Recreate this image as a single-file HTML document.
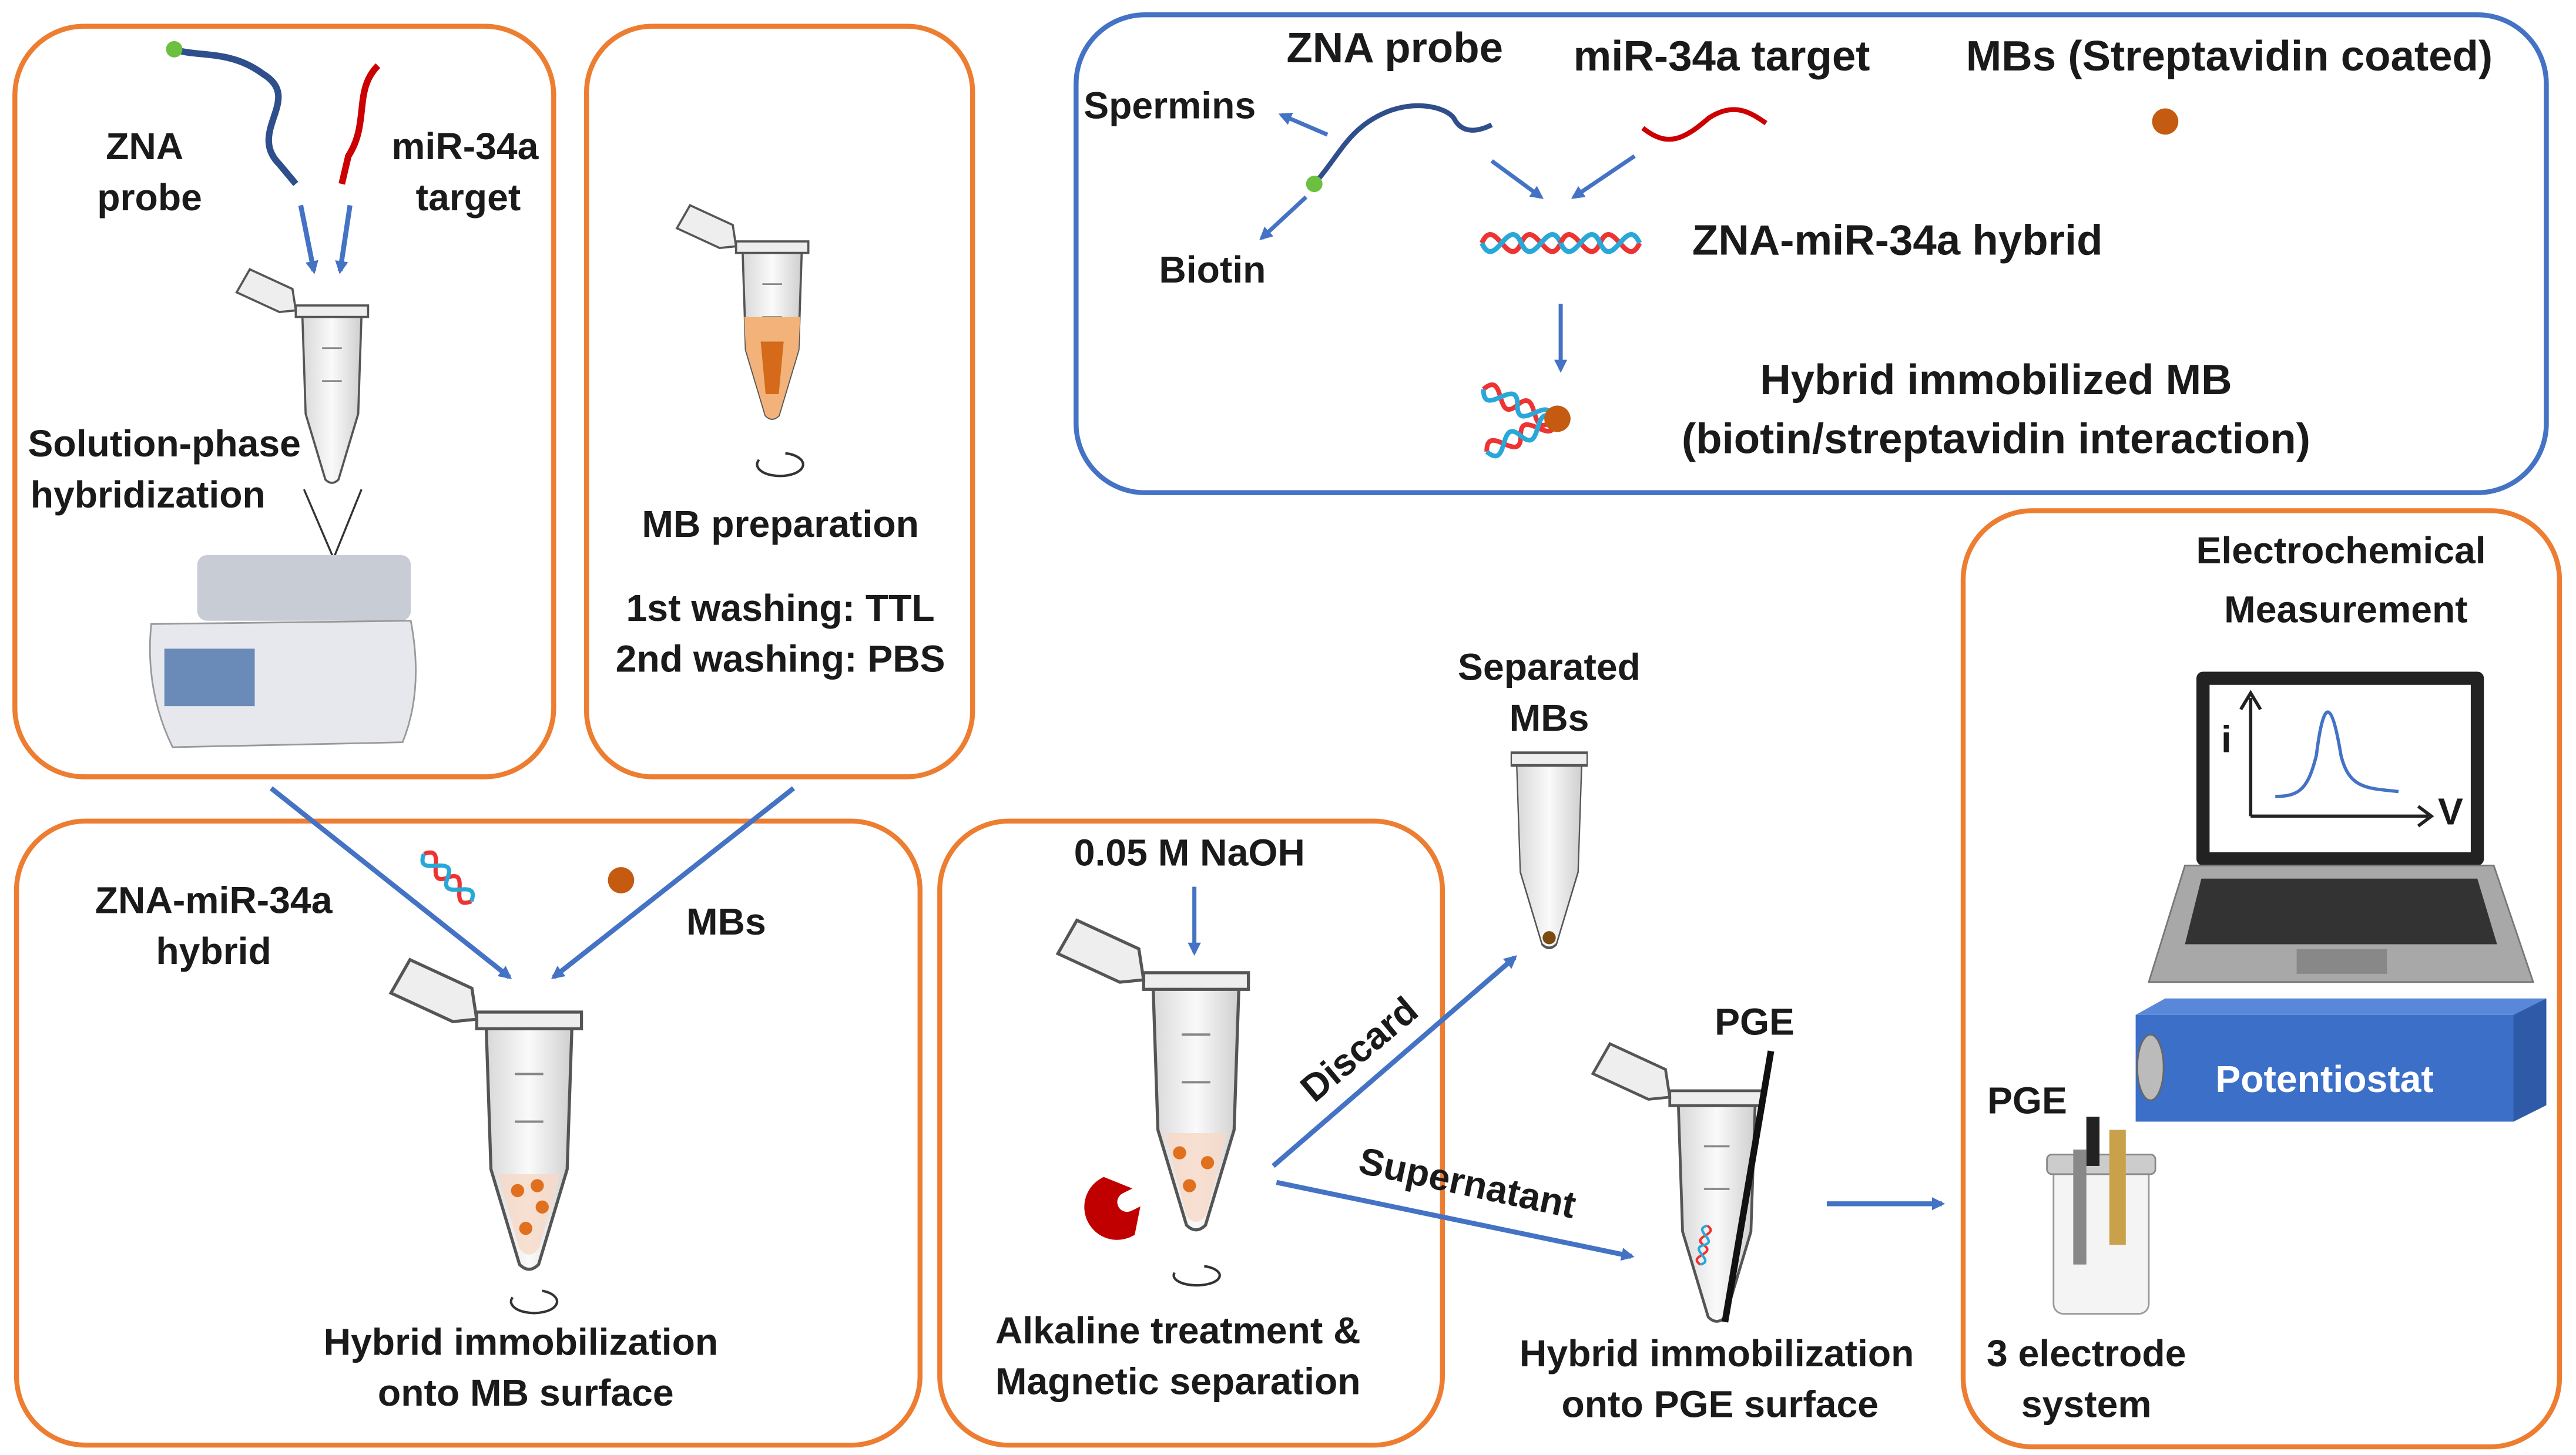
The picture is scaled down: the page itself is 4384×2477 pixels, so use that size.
<!DOCTYPE html>
<html><head><meta charset="utf-8"><style>
html,body{margin:0;padding:0;background:#fff}
svg{display:block}
text{font-family:"Liberation Sans",sans-serif;font-weight:bold;fill:#1a1a1a;font-size:23px}
.tr{font-size:26px}
</style></head><body>
<svg width="4384" height="2477" viewBox="0 0 1568 886" xmlns="http://www.w3.org/2000/svg">
<defs>
<marker id="ah" markerWidth="8" markerHeight="8" refX="6" refY="4" orient="auto" markerUnits="userSpaceOnUse"><path d="M0,0 L8,4 L0,8 Z" fill="#4472C4"/></marker>
<linearGradient id="tb" x1="0" x2="1"><stop offset="0" stop-color="#d8d8d8"/><stop offset="0.5" stop-color="#fafafa"/><stop offset="1" stop-color="#cfcfcf"/></linearGradient>
<g id="tube">
<path d="M-18,0 L18,0 L16,60 L4,100 Q0,104 -4,100 L-16,60 Z" fill="url(#tb)" stroke="#555" stroke-width="1.3"/>
<rect x="-22" y="-6" width="44" height="7" fill="#eee" stroke="#555" stroke-width="1.3"/>
<path d="M-22,-3 L-32,-2 L-58,-14 L-50,-28 L-24,-16 Z" fill="#eee" stroke="#555" stroke-width="1.3"/>
<line x1="-6" y1="20" x2="6" y2="20" stroke="#888"/><line x1="-6" y1="40" x2="6" y2="40" stroke="#888"/>
</g>
<g id="dna">
<path d="M0,0 C8,-18 16,18 24,0 C32,-18 40,18 48,0" fill="none" stroke="#e33" stroke-width="3"/>
<path d="M0,0 C8,18 16,-18 24,0 C32,18 40,-18 48,0" fill="none" stroke="#29a8d8" stroke-width="3"/>
</g>
</defs>
<g fill="none" stroke="#ED7D31" stroke-width="3">
<rect x="9" y="16" width="328" height="457" rx="42"/>
<rect x="357" y="16" width="235" height="457" rx="40"/>
<rect x="10" y="500" width="550" height="380" rx="42"/>
<rect x="572" y="500" width="306" height="380" rx="42"/>
<rect x="1195" y="311" width="363" height="570" rx="42"/>
</g>
<rect x="655" y="9" width="895" height="291" rx="42" fill="none" stroke="#4472C4" stroke-width="3"/>

<!-- box1 -->
<path d="M106,30 C120,35 140,30 160,45 C185,60 150,80 170,100 L180,112" fill="none" stroke="#2F4E8C" stroke-width="4"/>
<circle cx="106" cy="30" r="5" fill="#6bc13f"/>
<path d="M230,40 C215,55 225,75 212,95 L208,112" fill="none" stroke="#c00" stroke-width="4"/>
<text x="88" y="97" text-anchor="middle">ZNA</text><text x="91" y="128" text-anchor="middle">probe</text>
<text x="283" y="97" text-anchor="middle">miR-34a</text><text x="285" y="128" text-anchor="middle">target</text>
<line x1="183" y1="125" x2="191" y2="165" stroke="#4472C4" stroke-width="3" marker-end="url(#ah)"/>
<line x1="213" y1="125" x2="207" y2="165" stroke="#4472C4" stroke-width="3" marker-end="url(#ah)"/>
<use href="#tube" transform="translate(202,192)"/>
<text x="100" y="278" text-anchor="middle">Solution-phase</text><text x="90" y="309" text-anchor="middle">hybridization</text>
<path d="M185,298 L203,340 L220,298" fill="none" stroke="#333" stroke-width="1.2"/>
<rect x="120" y="338" width="130" height="40" rx="6" fill="#c8ccd4"/>
<path d="M92,380 L250,378 Q258,420 245,452 L105,455 Q88,420 92,380Z" fill="#e6e8ee" stroke="#999"/>
<rect x="100" y="395" width="55" height="35" fill="#6a8bb8"/>

<!-- box2 -->
<use href="#tube" transform="translate(470,153)"/>
<path d="M-17,40 L17,40 L16,60 L4,100 Q0,104 -4,100 L-16,60 Z" transform="translate(470,153)" fill="#f2b27a"/>
<path d="M463,208 L477,208 L474,240 L466,240Z" fill="#d46a1a"/>
<path d="M462,280 A14,7 0 1 0 478,276" fill="none" stroke="#333" stroke-width="1.5"/>
<text x="475" y="327" text-anchor="middle">MB preparation</text>
<text x="475" y="378" text-anchor="middle">1st washing: TTL</text>
<text x="475" y="409" text-anchor="middle">2nd washing: PBS</text>

<!-- top right -->
<text class="tr" x="849" y="38" text-anchor="middle">ZNA probe</text>
<text class="tr" x="1048" y="43" text-anchor="middle">miR-34a target</text>
<text class="tr" x="1357" y="43" text-anchor="middle">MBs (Streptavidin coated)</text>
<text x="712" y="72" text-anchor="middle">Spermins</text>
<text x="738" y="172" text-anchor="middle">Biotin</text>
<path d="M800,112 C815,95 820,80 840,70 C860,60 880,65 885,72 C890,82 900,80 908,76" fill="none" stroke="#2F4E8C" stroke-width="3"/>
<circle cx="800" cy="112" r="5" fill="#6bc13f"/>
<path d="M1000,78 C1015,90 1025,85 1040,72 C1055,62 1065,68 1075,75" fill="none" stroke="#c00" stroke-width="3"/>
<circle cx="1318" cy="74" r="8" fill="#c55a11"/>
<line x1="808" y1="82" x2="780" y2="70" stroke="#4472C4" stroke-width="2.5" marker-end="url(#ah)"/>
<line x1="795" y1="120" x2="768" y2="145" stroke="#4472C4" stroke-width="2.5" marker-end="url(#ah)"/>
<line x1="908" y1="98" x2="938" y2="120" stroke="#4472C4" stroke-width="2.5" marker-end="url(#ah)"/>
<line x1="995" y1="95" x2="958" y2="120" stroke="#4472C4" stroke-width="2.5" marker-end="url(#ah)"/>
<use href="#dna" transform="translate(902,148)"/><use href="#dna" transform="translate(950,148)"/>
<text class="tr" x="1155" y="155" text-anchor="middle">ZNA-miR-34a hybrid</text>
<line x1="950" y1="185" x2="950" y2="225" stroke="#4472C4" stroke-width="2.5" marker-end="url(#ah)"/>
<use href="#dna" transform="translate(903,237) rotate(25) scale(0.95)"/>
<use href="#dna" transform="translate(905,275) rotate(-25) scale(0.95)"/>
<circle cx="948" cy="255" r="8" fill="#c55a11"/>
<text class="tr" x="1215" y="240" text-anchor="middle">Hybrid immobilized MB</text>
<text class="tr" x="1215" y="276" text-anchor="middle">(biotin/streptavidin interaction)</text>

<!-- bottom left -->
<line x1="165" y1="480" x2="310" y2="595" stroke="#4472C4" stroke-width="3" marker-end="url(#ah)"/>
<line x1="483" y1="480" x2="337" y2="595" stroke="#4472C4" stroke-width="3" marker-end="url(#ah)"/>
<use href="#dna" transform="translate(258,520) rotate(45) scale(0.85)"/>
<circle cx="378" cy="536" r="8" fill="#c55a11"/>
<text x="130" y="556" text-anchor="middle">ZNA-miR-34a</text><text x="130" y="587" text-anchor="middle">hybrid</text>
<text x="442" y="569" text-anchor="middle">MBs</text>
<use href="#tube" transform="translate(322,625) scale(1.45)"/>
<path d="M303,715 L341,715 L328,760 Q322,768 316,760Z" fill="#f6d8c8" opacity="0.8"/>
<circle cx="315" cy="725" r="4" fill="#e0701e"/><circle cx="330" cy="735" r="4" fill="#e0701e"/><circle cx="320" cy="748" r="4" fill="#e0701e"/><circle cx="327" cy="722" r="4" fill="#e0701e"/>
<path d="M312,790 A14,7 0 1 0 330,786" fill="none" stroke="#333" stroke-width="1.5"/>
<text x="317" y="825" text-anchor="middle">Hybrid immobilization</text>
<text x="320" y="856" text-anchor="middle">onto MB surface</text>

<!-- middle -->
<text x="724" y="527" text-anchor="middle">0.05 M NaOH</text>
<line x1="727" y1="540" x2="727" y2="580" stroke="#4472C4" stroke-width="2.5" marker-end="url(#ah)"/>
<use href="#tube" transform="translate(728,601) scale(1.45)"/>
<path d="M709,690 L747,690 L734,740 Q728,748 722,740Z" fill="#f6d8c8" opacity="0.8"/>
<circle cx="718" cy="702" r="4" fill="#e0701e"/><circle cx="735" cy="708" r="4" fill="#e0701e"/><circle cx="724" cy="722" r="4" fill="#e0701e"/>
<path d="M672,720 A16,16 0 0 0 688,750 L690,740 A8,8 0 0 1 682,724 Z" fill="#c00000" stroke="#c00000" stroke-width="6"/>
<path d="M715,775 A14,6 0 1 0 733,771" fill="none" stroke="#333" stroke-width="1.5"/>
<text x="717" y="818" text-anchor="middle">Alkaline treatment &amp;</text>
<text x="717" y="849" text-anchor="middle">Magnetic separation</text>
<line x1="775" y1="710" x2="922" y2="583" stroke="#4472C4" stroke-width="3" marker-end="url(#ah)"/>
<line x1="777" y1="720" x2="993" y2="765" stroke="#4472C4" stroke-width="3" marker-end="url(#ah)"/>
<text transform="translate(800,672) rotate(-40)">Discard</text>
<text transform="translate(826,714) rotate(12)">Supernatant</text>

<!-- separated MBs -->
<text x="943" y="414" text-anchor="middle">Separated</text><text x="943" y="445" text-anchor="middle">MBs</text>
<g transform="translate(943,465) scale(0.55,1.1)">
<path d="M-36,0 L36,0 L32,60 L8,100 Q0,104 -8,100 L-32,60 Z" fill="url(#tb)" stroke="#555" stroke-width="1.5"/>
<rect x="-42" y="-6" width="84" height="7" fill="#eee" stroke="#555" stroke-width="1.5"/>
</g>
<circle cx="943" cy="571" r="4" fill="#7a4a10"/>

<!-- PGE tube -->
<use href="#tube" transform="translate(1045,672) scale(1.3)"/>
<text x="1068" y="630" text-anchor="middle">PGE</text>
<line x1="1078" y1="640" x2="1050" y2="805" stroke="#111" stroke-width="4"/>
<use href="#dna" transform="translate(1035,770) rotate(-80) scale(0.5)"/>
<text x="1045" y="832" text-anchor="middle">Hybrid immobilization</text>
<text x="1047" y="863" text-anchor="middle">onto PGE surface</text>
<line x1="1112" y1="733" x2="1182" y2="733" stroke="#4472C4" stroke-width="3" marker-end="url(#ah)"/>

<!-- right box -->
<text x="1425" y="343" text-anchor="middle" font-size="28">Electrochemical</text>
<text x="1428" y="379" text-anchor="middle" font-size="28">Measurement</text>
<rect x="1337" y="409" width="175" height="118" rx="4" fill="#222"/>
<rect x="1345" y="417" width="159" height="102" fill="#fff"/>
<path d="M1370,497 L1370,425 M1370,497 L1478,497" stroke="#222" stroke-width="2" fill="none"/>
<path d="M1364,432 L1370,422 L1376,432 M1472,491 L1480,497 L1472,503" fill="none" stroke="#222" stroke-width="2"/>
<path d="M1385,485 C1400,485 1405,480 1410,460 C1415,420 1420,430 1425,460 C1430,480 1440,480 1460,482" fill="none" stroke="#4472C4" stroke-width="2"/>
<text x="1352" y="458" font-size="26">i</text><text x="1484" y="502" font-size="26">V</text>
<path d="M1330,527 L1518,527 L1542,598 L1308,598 Z" fill="#a8a8a8" stroke="#777"/>
<path d="M1340,535 L1508,535 L1520,575 L1330,575Z" fill="#333"/>
<rect x="1398" y="578" width="55" height="15" fill="#888"/>
<path d="M1300,618 L1530,618 L1550,608 L1550,673 L1530,683 L1300,683 Z" fill="#3c6fc8"/>
<path d="M1530,618 L1550,608 L1550,673 L1530,683Z" fill="#2f5aa8"/>
<path d="M1318,608 L1550,608 L1530,618 L1300,618Z" fill="#5a88d8"/>
<ellipse cx="1309" cy="650" rx="8" ry="20" fill="#bbb" stroke="#666"/>
<text x="1415" y="665" text-anchor="middle" font-size="29" style="fill:#fff">Potentiostat</text>
<text x="1234" y="678" text-anchor="middle">PGE</text>
<rect x="1250" y="710" width="58" height="90" rx="6" fill="#f4f4f4" stroke="#999"/>
<rect x="1246" y="703" width="66" height="12" rx="3" fill="#ccc" stroke="#888"/>
<rect x="1270" y="680" width="8" height="30" fill="#222"/><rect x="1284" y="688" width="10" height="70" fill="#c9a14a"/><rect x="1262" y="700" width="8" height="70" fill="#888"/>
<text x="1270" y="832" text-anchor="middle">3 electrode</text>
<text x="1270" y="863" text-anchor="middle">system</text>
</svg>
</body></html>
